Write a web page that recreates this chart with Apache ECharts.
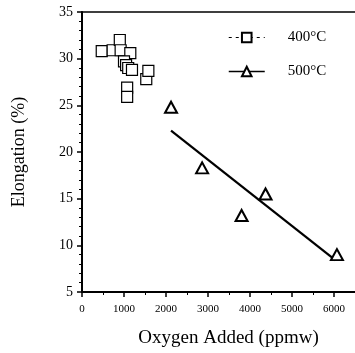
<!DOCTYPE html>
<html>
<head>
<meta charset="utf-8">
<script src="https://cdn.jsdelivr.net/npm/echarts@6/dist/echarts.min.js"></script>
<style>html,body{margin:0;padding:0;background:#fff}#c{width:355px;height:353px}</style>
</head>
<body>
<div id="c"></div>
<script>
// Data
const oxygen400 = [470, 730, 900, 920, 1150, 1000, 1050, 1100, 1190, 1530, 1580, 1075, 1075];
const elong400  = [30.8, 30.9, 32.0, 30.9, 30.6, 29.7, 29.3, 29.0, 28.8, 27.8, 28.7, 26.9, 25.9];
const oxygen500 = [2120, 2860, 3800, 4370, 6070];
const elong500  = [24.8, 18.3, 13.2, 15.5, 9.0];
const fitX = [2120, 6040];
const fitY = [22.3, 8.4];
const xTicks = [0, 1000, 2000, 3000, 4000, 5000, 6000];
const yTicks = [5, 10, 15, 20, 25, 30, 35];

const font = '"Liberation Serif", "DejaVu Serif", serif';
const pairs = (xs, ys) => xs.map((x, i) => [x, ys[i]]);

const chart = echarts.init(document.getElementById('c'), null, {renderer: 'canvas'});
chart.setOption({
  animation: false,
  backgroundColor: '#fff',
  grid: {left: 82, right: -3, top: 12, bottom: 61},
  legend: {
    orient: 'vertical', left: 223, top: 25, itemWidth: 36, itemHeight: 12, itemGap: 19,
    textStyle: {fontFamily: font, fontSize: 15, color: '#000', padding: [0, 0, 0, 18], lineHeight: 12},
    data: [
      {name: '400°C', lineStyle: {type: [3, 4], width: 1.2, opacity: 1, color: '#000'}},
      {name: '500°C', lineStyle: {type: 'solid', width: 1.5, opacity: 1, color: '#000'}}
    ]
  },
  xAxis: [{
    type: 'value', min: 0, max: 6500, interval: 1000,
    name: 'Oxygen Added (ppmw)', nameLocation: 'middle', nameGap: 37,
    nameTextStyle: {fontFamily: font, fontSize: 19, color: '#000', padding: [0, 0, 0, 20]},
    axisLine: {lineStyle: {color: '#000', width: 2}},
    axisTick: {show: true, length: 5, lineStyle: {color: '#000', width: 1.5}, customValues: xTicks},
    minorTick: {show: true, splitNumber: 2, length: 3, lineStyle: {color: '#000'}},
    axisLabel: {fontFamily: font, fontSize: 11, color: '#000', margin: 12, customValues: xTicks,
                formatter: v => String(v)},
    splitLine: {show: false}
  }, {
    type: 'value', position: 'top', min: 0, max: 6500,
    axisLine: {show: true, lineStyle: {color: '#000', width: 1.5}},
    axisTick: {show: false}, axisLabel: {show: false}, splitLine: {show: false}
  }],
  yAxis: {
    type: 'value', min: 5, max: 35, interval: 5,
    name: 'Elongation (%)', nameLocation: 'middle', nameGap: 54, nameRotate: 90,
    nameTextStyle: {fontFamily: font, fontSize: 18, color: '#000'},
    axisLine: {show: true, lineStyle: {color: '#000', width: 2}},
    axisTick: {show: true, length: 5, lineStyle: {color: '#000', width: 1.5}, customValues: yTicks},
    minorTick: {show: true, splitNumber: 5, length: 3, lineStyle: {color: '#000'}},
    axisLabel: {fontFamily: font, fontSize: 14, color: '#000', margin: 9, customValues: yTicks},
    splitLine: {show: false}
  },
  series: [
    {
      name: '400°C', type: 'line', data: pairs(oxygen400, elong400),
      symbol: 'rect', symbolSize: 11, showSymbol: true,
      lineStyle: {opacity: 0, width: 0},
      itemStyle: {color: '#fff', borderColor: '#000', borderWidth: 1.2}
    },
    {
      name: '500°C', type: 'line', data: pairs(oxygen500, elong500),
      symbol: 'triangle', symbolSize: [12, 11], showSymbol: true,
      lineStyle: {opacity: 0, width: 0},
      itemStyle: {color: '#fff', borderColor: '#000', borderWidth: 2}
    },
    {
      name: 'fit', type: 'line', data: pairs(fitX, fitY), showSymbol: false, symbol: 'none',
      lineStyle: {color: '#000', width: 2.2}, z: 1
    }
  ]
});
</script>
</body>
</html>
